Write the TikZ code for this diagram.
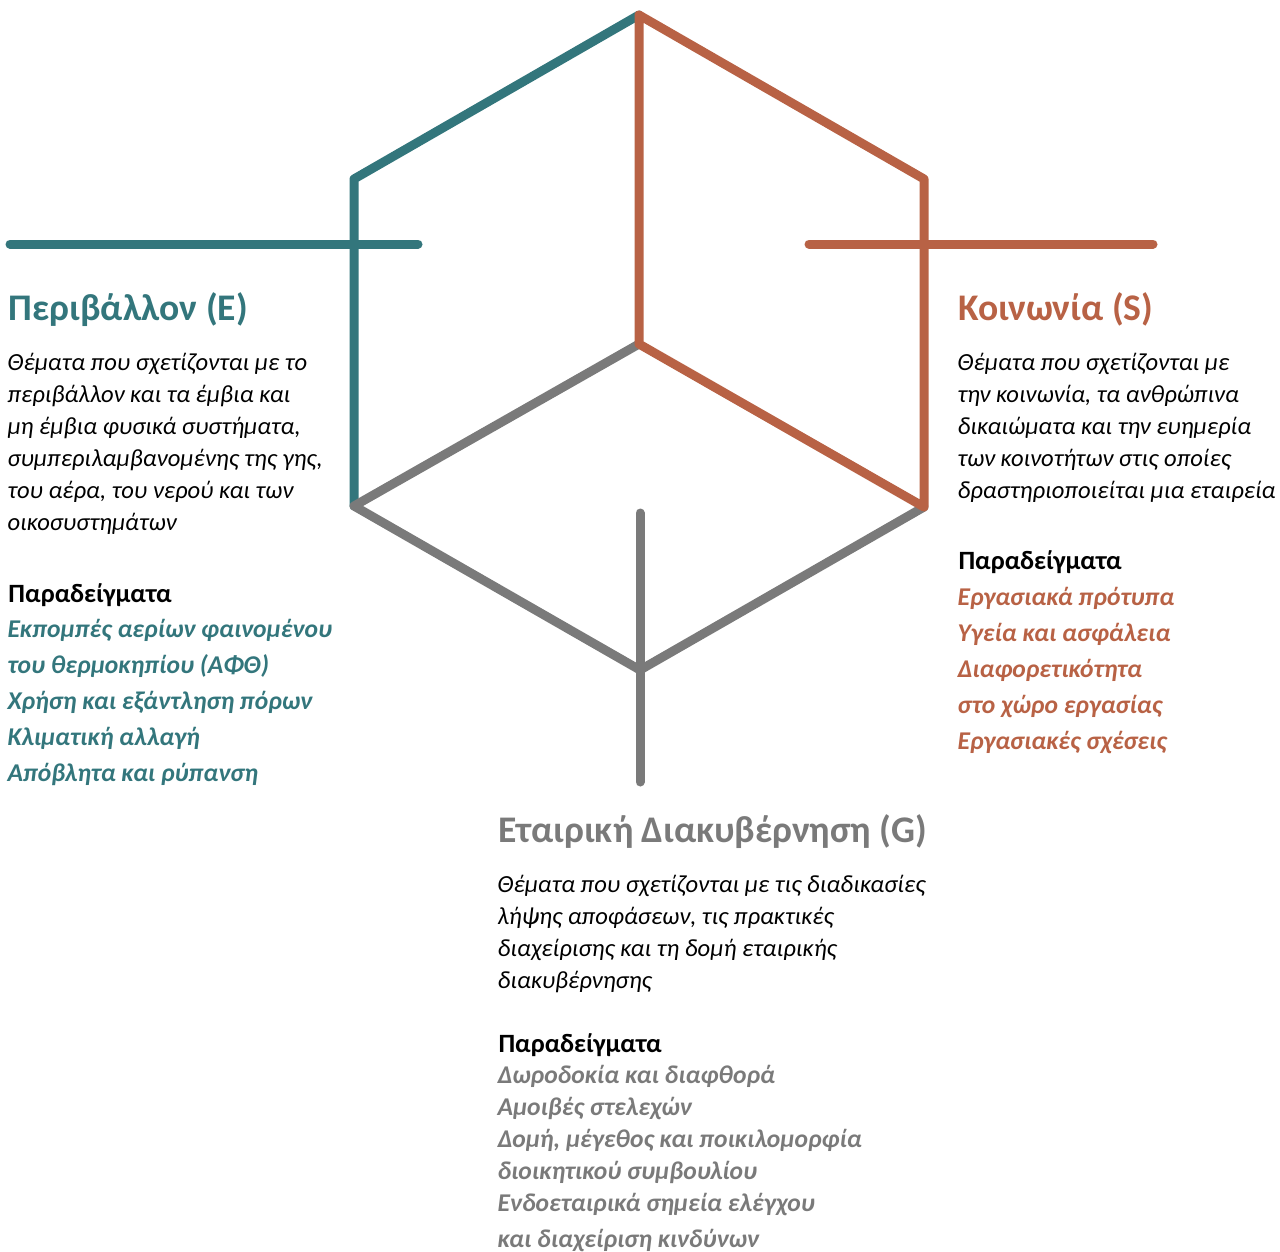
\documentclass[tikz,border=0pt]{standalone}
\usepackage{fontspec}
\setmainfont{Carlito}
\definecolor{envcol}{HTML}{33767C}
\definecolor{soccol}{HTML}{B86245}
\definecolor{govcol}{HTML}{7A7A7A}

\begin{document}
\begin{tikzpicture}[x=0.5pt, y=-0.5pt, line width=4.5pt, line cap=round, line join=round]
    \tikzstyle{title}=[anchor=base west, inner sep=0pt, font=\fontsize{18.8}{24}\selectfont\bfseries]
    \tikzstyle{body}=[anchor=base west, inner sep=0pt, align=left, font=\fontsize{12.3}{16}\selectfont\itshape]
    \tikzstyle{head}=[anchor=base west, inner sep=0pt, font=\fontsize{13.2}{16}\selectfont\bfseries]
    \tikzstyle{items}=[anchor=base west, inner sep=0pt, align=left, font=\fontsize{12.8}{18}\selectfont\bfseries\itshape]

    \useasboundingbox (0,0) rectangle (1280,1252);

    % corners of the hexagon
    \coordinate (top) at (639,15);
    \coordinate (ul) at (354,179);
    \coordinate (ll) at (354,506);
    \coordinate (bot) at (640,670);
    \coordinate (lr) at (924,507);
    \coordinate (ur) at (924,179);
    \coordinate (mid) at (639,344);

    % free ends
    \coordinate (envl) at (10,244);
    \coordinate (envr) at (418,244);
    \coordinate (socl) at (809,244);
    \coordinate (socr) at (1153,244);
    \coordinate (govt) at (640,513);
    \coordinate (govb) at (640,782);

    \draw[envcol] (ll) -- (ul) -- (top);
    \draw[envcol] (envl) -- (envr);
    \draw[govcol] (mid) -- (ll) -- (bot) -- (lr);
    \draw[govcol] (govt) -- (govb);
    \draw[soccol] (lr) -- (mid) -- (top) -- (ur) -- (lr);
    \draw[soccol] (socl) -- (socr);

    % Environment (anchors sit on the last line)
    \node[title, text=envcol] (envtitle) at (4,320) {Περιβάλλον (E)};
    \node[body] (envbody) at (3,530) {Θέματα που σχετίζονται με το\\περιβάλλον και τα έμβια και\\μη έμβια φυσικά συστήματα,\\συμπεριλαμβανομένης της γης,\\του αέρα, του νερού και των\\οικοσυστημάτων};
    \node[head] (envhead) at (4,602) {Παραδείγματα};
    \node[items, text=envcol] (envitems) at (3,781) {Εκπομπές αερίων φαινομένου\\του θερμοκηπίου (ΑΦΘ)\\Χρήση και εξάντληση πόρων\\Κλιματική αλλαγή\\Απόβλητα και ρύπανση};

    % Society
    \node[title, text=soccol] (soctitle) at (954,320) {Κοινωνία (S)};
    \node[body] (socbody) at (953,498) {Θέματα που σχετίζονται με\\την κοινωνία, τα ανθρώπινα\\δικαιώματα και την ευημερία\\των κοινοτήτων στις οποίες\\δραστηριοποιείται μια εταιρεία};
    \node[head] (sochead) at (954,569) {Παραδείγματα};
    \node[items, text=soccol] (socitems) at (953,749) {Εργασιακά πρότυπα\\Υγεία και ασφάλεια\\Διαφορετικότητα\\στο χώρο εργασίας\\Εργασιακές σχέσεις};

    % Governance
    \node[title, text=govcol] (govtitle) at (494,842) {Εταιρική Διακυβέρνηση (G)};
    \node[body] (govbody) at (493,988) {Θέματα που σχετίζονται με τις διαδικασίες\\λήψης αποφάσεων, τις πρακτικές\\διαχείρισης και τη δομή εταιρικής\\διακυβέρνησης};
    \node[head] (govhead) at (494,1052) {Παραδείγματα};
    \node[items, text=govcol, font=\fontsize{12.8}{16}\selectfont\bfseries\itshape] (govitems) at (493,1247) {Δωροδοκία και διαφθορά\\Αμοιβές στελεχών\\Δομή, μέγεθος και ποικιλομορφία\\διοικητικού συμβουλίου\\Ενδοεταιρικά σημεία ελέγχου\\[2pt]και διαχείριση κινδύνων};
\end{tikzpicture}
\end{document}
